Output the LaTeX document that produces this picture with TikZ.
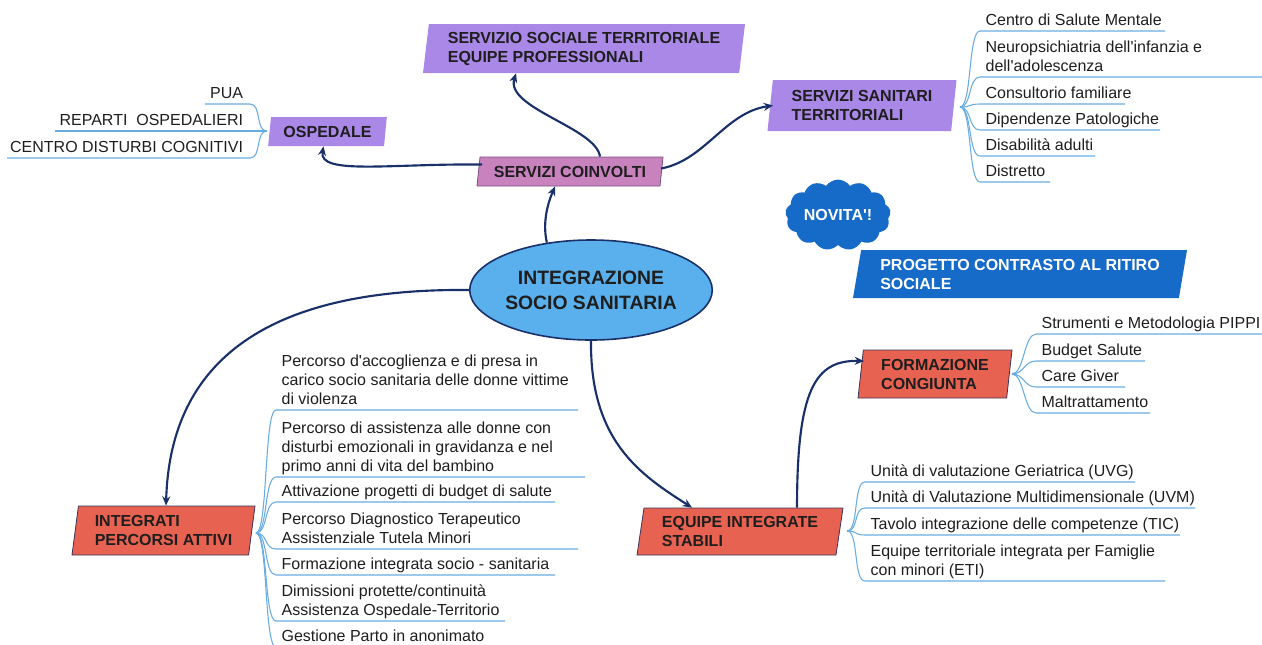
\documentclass[tikz,border=0pt]{standalone}
\usepackage{fontspec}
\setmainfont{Liberation Sans}
\usetikzlibrary{shapes.geometric,shapes.symbols,arrows.meta,calc}
\definecolor{purp}{RGB}{170,136,232}
\definecolor{pink}{RGB}{200,130,190}
\definecolor{pinkb}{RGB}{120,80,130}
\definecolor{redb}{RGB}{232,98,82}
\definecolor{redbd}{RGB}{60,50,90}
\definecolor{ellf}{RGB}{90,176,236}
\definecolor{navy}{RGB}{25,48,105}
\definecolor{blueb}{RGB}{22,106,200}
\definecolor{brkc}{RGB}{105,172,226}
\definecolor{txt}{RGB}{30,30,30}
\newcommand\Dp{\rule[-3.5pt]{0pt}{1pt}}
\newcommand\RItem[6]{%
  \node[ritem] (#1) at (#3,#4) {#6\Dp};
  \draw[brk] (#2) .. controls +(12,0) and +(-12,0) .. (#1.south west) -- ++(#5,0);}
\newcommand\LItem[6]{%
  \node[litem] (#1) at (#3,#4) {#6\Dp};
  \draw[brk] (#2) .. controls +(-12,0) and +(12,0) .. (#1.south east) -- ++(-#5,0);}
\begin{document}
\begin{tikzpicture}[x=0.75pt,y=-0.75pt,
  para/.style={trapezium, trapezium left angle=#1, trapezium right angle=180-#1,
    trapezium stretches body, inner sep=0pt, align=left, text=txt,
    font=\bfseries\fontsize{12}{14.25}\selectfont},
  para/.default=77,
  ritem/.style={anchor=south west, inner xsep=4pt, inner ysep=0.3pt, align=left,
    text=txt, font=\fontsize{12}{14.25}\selectfont},
  litem/.style={anchor=south east, inner xsep=5pt, inner ysep=0.3pt, align=right,
    text=txt, font=\fontsize{12}{14.25}\selectfont},
  brk/.style={draw=brkc, line width=0.8pt},
  conn/.style={draw=navy, line width=1.6pt, -{Stealth[length=7pt,width=6pt]}}
]
\useasboundingbox (0,0) rectangle (1262,644);

% main ellipse
\node[ellipse, fill=ellf, draw=navy, line width=1.2pt, inner sep=0pt,
  minimum width=166.5pt, minimum height=75pt, align=center, text=txt,
  font=\bfseries\fontsize{14.5}{18.75}\selectfont] (main) at (591,290)
  {INTEGRAZIONE\\SOCIO SANITARIA};

% boxes
\node[para=75, fill=pink, draw=pinkb, line width=0.6pt, minimum width=139.5pt, minimum height=21.75pt]
  (coinv) at (570,171.5) {SERVIZI COINVOLTI};
\node[para=76, fill=purp, minimum width=89pt, minimum height=21.75pt]
  (ospedale) at (327.5,131.5) {OSPEDALE};
\node[para=80, fill=purp, minimum width=241.5pt, minimum height=36.75pt]
  (social) at (584,48.5) {SERVIZIO SOCIALE TERRITORIALE\\EQUIPE PROFESSIONALI};
\node[para=80, fill=purp, minimum width=141.75pt, minimum height=38.25pt]
  (sanitari) at (862,105.5) {SERVIZI SANITARI\\TERRITORIALI};
\node[para=78, fill=redb, draw=redbd, line width=0.6pt, minimum width=137.25pt, minimum height=36.75pt]
  (integrati) at (163.5,530.5) {INTEGRATI\\PERCORSI ATTIVI};
\node[para=77, fill=redb, draw=redbd, line width=0.6pt, minimum width=154.5pt, minimum height=35.25pt]
  (equipe) at (740,531.5) {EQUIPE INTEGRATE\\STABILI};
\node[para=80, fill=redb, draw=redbd, line width=0.6pt, minimum width=115.5pt, minimum height=36pt]
  (formazione) at (935,374) {FORMAZIONE\\CONGIUNTA};
\node[para=75, fill=blueb, text=white, minimum width=250.5pt, minimum height=36pt]
  (progetto) at (1020,274) {PROGETTO CONTRASTO AL RITIRO\\SOCIALE};
\node[cloud, cloud puffs=13, cloud puff arc=110, aspect=1.6, fill=blueb, inner sep=0pt,
  minimum width=79pt, minimum height=49pt, text=white,
  font=\bfseries\fontsize{12}{14.25}\selectfont] (novita) at (838,215) {NOVITA\textquotesingle!};

% connectors
\draw[conn] ($(coinv.center)+(-88,-7)$) .. controls +(-92,-1) and +(-5,29) .. ($(ospedale.south)+(-4,0)$);
\draw[conn] ($(coinv.north)+(30,0)$) .. controls +(-4,-29) and +(-11,35) .. ($(social.south)+(-68,0)$);
\draw[conn] ($(coinv.center)+(91,-3)$) .. controls +(44,-8) and +(-48,7) .. ($(sanitari.center)+(-89,0)$);
\draw[conn] (main.133) .. controls +(-5,-22) and +(-6,14) .. ($(coinv.south)+(-15,0)$);
\draw[conn] (main.west) .. controls +(-200,-2) and +(4,-146) .. ($(integrati.north)+(2.5,0)$);
\draw[conn] (main.south) .. controls +(-1,100) and +(-52,-33) .. ($(equipe.north)+(-48,0)$);
\draw[conn] ($(equipe.north)+(57,0)$) .. controls +(0,-118) and +(-49,-1) .. ($(formazione.center)+(-71,-13)$);

% bracket roots
\coordinate (rs) at (960,107);
\coordinate (rf) at (1012,374);
\coordinate (re) at (847,531);
\coordinate (ri) at (256,533);
\coordinate (ro) at (267,131);

% lists
\RItem{s1}{rs}{980}{31}{185}{Centro di Salute Mentale}
\RItem{s2}{rs}{980}{77}{282}{Neuropsichiatria dell\textquotesingle infanzia e\\dell\textquotesingle adolescenza}
\RItem{s3}{rs}{980}{104}{145}{Consultorio familiare}
\RItem{s4}{rs}{980}{130}{180}{Dipendenze Patologiche}
\RItem{s5}{rs}{980}{156}{115}{Disabilità adulti}
\RItem{s6}{rs}{980}{182}{70}{Distretto}

\RItem{f1}{rf}{1036}{334}{226}{Strumenti e Metodologia PIPPI}
\RItem{f2}{rf}{1036}{361}{109}{Budget Salute}
\RItem{f3}{rf}{1036}{387}{89}{Care Giver}
\RItem{f4}{rf}{1036}{413}{114}{Maltrattamento}

\RItem{e1}{re}{865}{482}{270}{Unità di valutazione Geriatrica (UVG)}
\RItem{e2}{re}{865}{508}{330}{Unità di Valutazione Multidimensionale (UVM)}
\RItem{e3}{re}{865}{535}{315}{Tavolo integrazione delle competenze (TIC)}
\RItem{e4}{re}{865}{581}{300}{Equipe territoriale integrata per Famiglie\\con minori (ETI)}

\RItem{i1}{ri}{276}{410}{302}{Percorso d\textquotesingle accoglienza e di presa in\\carico socio sanitaria delle donne vittime\\di violenza}
\RItem{i2}{ri}{276}{477}{309}{Percorso di assistenza alle donne con\\disturbi emozionali in gravidanza e nel\\primo anni di vita del bambino}
\RItem{i3}{ri}{276}{502}{279}{Attivazione progetti di budget di salute}
\RItem{i4}{ri}{276}{549}{302}{Percorso Diagnostico Terapeutico\\Assistenziale Tutela Minori}
\RItem{i5}{ri}{276}{575}{279}{Formazione integrata socio - sanitaria}
\RItem{i6}{ri}{276}{621}{229}{Dimissioni protette/continuità\\Assistenza Ospedale-Territorio}
\RItem{i7}{ri}{276}{647}{215}{Gestione Parto in anonimato}

\LItem{o1}{ro}{250}{104}{45}{PUA}
\LItem{o2}{ro}{250}{131}{195}{REPARTI\ \ OSPEDALIERI}
\LItem{o3}{ro}{250}{158}{243}{CENTRO DISTURBI COGNITIVI}
\end{tikzpicture}
\end{document}
